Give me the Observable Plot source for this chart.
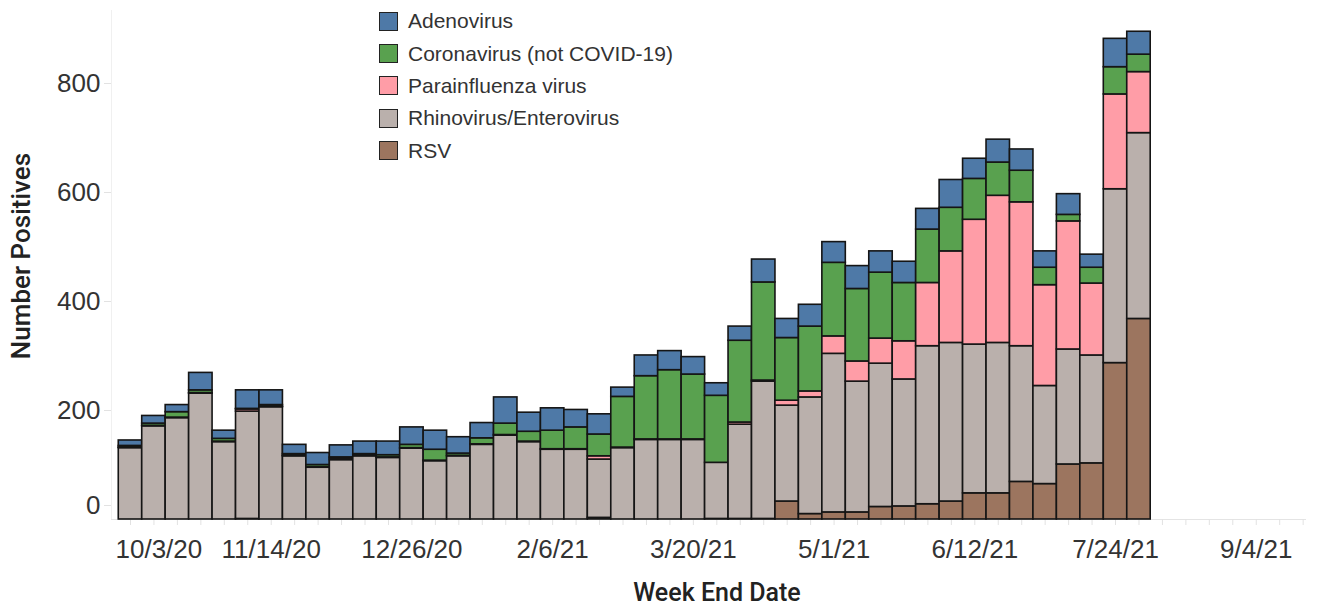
<!DOCTYPE html>
<html>
<head>
<meta charset="utf-8">
<script src="https://cdn.jsdelivr.net/npm/d3@7"></script>
<script src="https://cdn.jsdelivr.net/npm/@observablehq/plot@0.6"></script>
<style>
  html, body { margin: 0; padding: 0; background: #fff; }
  #wrap { position: relative; width: 1320px; height: 606px; overflow: hidden; font-family: "Liberation Sans", Arial, sans-serif; }
  #legend { position: absolute; left: 379px; top: 5px; }
  .item { display: flex; align-items: center; height: 32.4px; margin: 0; }
  .sw { width: 17px; height: 17px; border: 1.5px solid #222; box-sizing: content-box; margin-right: 10px; }
  .lab { font-size: 21px; color: #333; white-space: nowrap; line-height: 20px; }
  #xtitle { position: absolute; left: 0; width: 1434px; top: 583px; height: 20px; line-height: 20px; text-align: center; font-family: Roboto, "Liberation Sans", sans-serif; font-weight: 500; font-size: 25px; color: #222; }
  #ytitle { position: absolute; left: 21px; top: 256px; transform: translate(-50%, -50%) rotate(-90deg); white-space: nowrap; font-family: Roboto, "Liberation Sans", sans-serif; font-weight: 500; font-size: 26px; color: #222; }
</style>
</head>
<body>
<div id="wrap">
  <div id="chart"></div>
  <div id="legend"></div>
  <div id="xtitle">Week End Date</div>
  <div id="ytitle">Number Positives</div>
</div>
<script>
// ---- data ----
const weekEnd = ["2020-10-03","2020-10-10","2020-10-17","2020-10-24","2020-10-31","2020-11-07","2020-11-14","2020-11-21","2020-11-28","2020-12-05","2020-12-12","2020-12-19","2020-12-26","2021-01-02","2021-01-09","2021-01-16","2021-01-23","2021-01-30","2021-02-06","2021-02-13","2021-02-20","2021-02-27","2021-03-06","2021-03-13","2021-03-20","2021-03-27","2021-04-03","2021-04-10","2021-04-17","2021-04-24","2021-05-01","2021-05-08","2021-05-15","2021-05-22","2021-05-29","2021-06-05","2021-06-12","2021-06-19","2021-06-26","2021-07-03","2021-07-10","2021-07-17","2021-07-24","2021-07-31"];
const rsv    = [0,0,0,0,0,1,0,0,0,0,0,0,0,0,0,0,0,0,0,0,3,0,0,0,0,1,1,1,33,10,13,13,23,24,28,33,48,48,69,65,101,103,287,368];
const rhino  = [131,171,186,231,142,197,206,116,95,109,116,113,130,107,116,137,154,142,128,128,107,131,146,146,146,103,173,252,176,214,291,240,263,233,290,291,273,276,249,180,211,198,319,341];
const para   = [1,1,1,1,1,4,1,1,1,3,1,1,1,1,1,1,1,1,1,1,6,1,1,1,1,0,4,2,9,11,32,37,46,70,116,168,229,270,264,185,235,132,174,112];
const corona = [3,4,10,5,5,1,3,3,4,2,3,4,6,20,4,11,21,18,34,40,40,93,116,127,119,123,150,180,115,119,135,133,121,107,98,80,75,61,58,32,12,29,50,32];
const adeno  = [10,14,13,32,15,34,27,17,22,22,23,25,32,35,30,28,48,35,41,32,37,17,38,35,32,23,26,42,35,40,38,42,39,39,38,51,37,42,39,30,38,24,52,42];

const legendOrder = ["Adenovirus","Coronavirus (not COVID-19)","Parainfluenza virus","Rhinovirus/Enterovirus","RSV"];
const legendColors = ["#4e79a7","#59a14f","#ff9da7","#bab0ac","#9c755f"];
const stackOrder = ["RSV","Rhinovirus/Enterovirus","Parainfluenza virus","Coronavirus (not COVID-19)","Adenovirus"];
const stackValues = [rsv, rhino, para, corona, adeno];

const xTickLabels = ["2020-10-03","2020-11-14","2020-12-26","2021-02-06","2021-03-20","2021-05-01","2021-06-12","2021-07-24","2021-09-04"];
const yTicks = [200, 400, 600, 800];

// ---- build table ----
const parse = d3.utcParse("%Y-%m-%d");
const DAY = 864e5;
const rows = [];
weekEnd.forEach((ds, i) => {
  const d = parse(ds);
  let base = 0;
  stackOrder.forEach((k, j) => {
    const v = stackValues[j][i];
    rows.push({virus: k, x1: new Date(+d - 3.5 * DAY), x2: new Date(+d + 3.5 * DAY), y1: base, y2: base + v});
    base += v;
  });
});

const fmt = d => `${d.getUTCMonth() + 1}/${d.getUTCDate()}/${String(d.getUTCFullYear()).slice(2)}`;
const labelDates = xTickLabels.map(parse);
const xDomain = [new Date(Date.UTC(2020, 8, 27, 8)), new Date(Date.UTC(2021, 8, 19))];
const weekly = d3.utcSaturday.range(parse("2020-10-03"), xDomain[1]);

const chart = Plot.plot({
  width: 1320,
  height: 606,
  marginLeft: 111,
  marginRight: 14,
  marginTop: 10,
  marginBottom: 87,
  style: {fontFamily: "'Liberation Sans', Arial, sans-serif", fontSize: "26px", color: "#333", background: "#fff"},
  x: {type: "utc", domain: xDomain},
  y: {domain: [0, 934]},
  color: {domain: legendOrder, range: legendColors},
  marks: [
    Plot.ruleX([xDomain[0]], {stroke: "#f0f0f0", strokeWidth: 1}),
    Plot.ruleY([0], {stroke: "#e4e4e4", strokeWidth: 1}),
    Plot.axisX({ticks: weekly, tickSize: 6, stroke: "#e2e2e2", tickFormat: () => "", label: null}),
    Plot.axisX({ticks: labelDates.slice(1), tickSize: 0, tickPadding: 20, tickFormat: fmt, fill: "#333", label: null}),
    Plot.axisX({ticks: labelDates.slice(0, 1), tickSize: 0, tickPadding: 20, tickFormat: fmt, textAnchor: "start", dx: -15, fill: "#333", label: null}),
    Plot.axisY({ticks: yTicks, tickSize: 7, tickPadding: 4, stroke: "#e2e2e2", fill: "#333", label: null}),
    Plot.axisY({ticks: [0], tickSize: 7, tickPadding: 4, stroke: "#e2e2e2", fill: "#333", dy: -14, label: null}),
    Plot.rect(rows, {x1: "x1", x2: "x2", y1: "y1", y2: "y2", fill: "virus", stroke: "#151515", strokeWidth: 1.6})
  ]
});
document.getElementById("chart").appendChild(chart);

const lg = document.getElementById("legend");
legendOrder.forEach((name, i) => {
  const it = document.createElement("div");
  it.className = "item";
  const sw = document.createElement("div");
  sw.className = "sw";
  sw.style.background = legendColors[i];
  const lb = document.createElement("span");
  lb.className = "lab";
  lb.textContent = name;
  it.appendChild(sw);
  it.appendChild(lb);
  lg.appendChild(it);
});
</script>
</body>
</html>
